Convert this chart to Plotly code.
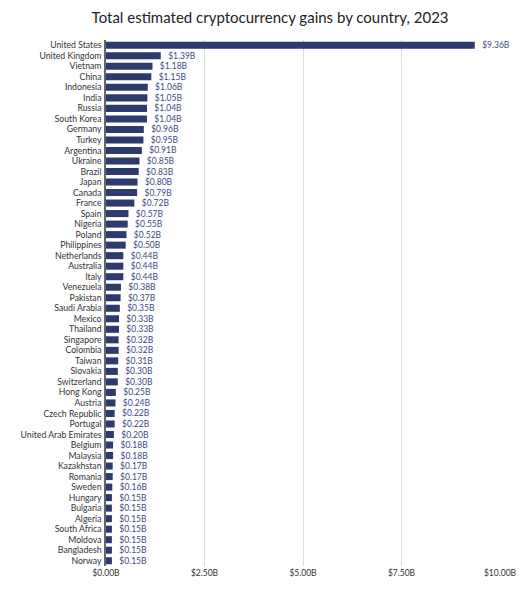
import plotly.graph_objects as go

countries = ["United States", "United Kingdom", "Vietnam", "China", "Indonesia", "India", "Russia",
             "South Korea", "Germany", "Turkey", "Argentina", "Ukraine", "Brazil", "Japan", "Canada",
             "France", "Spain", "Nigeria", "Poland", "Philippines", "Netherlands", "Australia", "Italy",
             "Venezuela", "Pakistan", "Saudi Arabia", "Mexico", "Thailand", "Singapore", "Colombia",
             "Taiwan", "Slovakia", "Switzerland", "Hong Kong", "Austria", "Czech Republic", "Portugal",
             "United Arab Emirates", "Belgium", "Malaysia", "Kazakhstan", "Romania", "Sweden", "Hungary",
             "Bulgaria", "Algeria", "South Africa", "Moldova", "Bangladesh", "Norway"]
gains_billion = [9.36, 1.39, 1.18, 1.15, 1.06, 1.05, 1.04, 1.04, 0.96, 0.95, 0.91, 0.85, 0.83, 0.80,
                 0.79, 0.72, 0.57, 0.55, 0.52, 0.50, 0.44, 0.44, 0.44, 0.38, 0.37, 0.35, 0.33, 0.33,
                 0.32, 0.32, 0.31, 0.30, 0.30, 0.25, 0.24, 0.22, 0.22, 0.20, 0.18, 0.18, 0.17, 0.17,
                 0.16, 0.15, 0.15, 0.15, 0.15, 0.15, 0.15, 0.15]
x_ticks = [0, 2.5, 5, 7.5, 10]
x_tick_labels = ["$0.00B", "$2.50B", "$5.00B", "$7.50B", "$10.00B"]

FONT = "Lato"

fig = go.Figure(go.Bar(
    x=gains_billion,
    y=countries,
    orientation="h",
    marker=dict(color="#2c3a6e", line=dict(width=0)),
    text=["  $%.2fB" % v for v in gains_billion],
    textposition="outside",
    constraintext="none",
    cliponaxis=False,
    textfont=dict(family=FONT, size=8.5, color="#3d4a85"),
    hoverinfo="x+y",
))

fig.update_layout(
    width=519, height=588,
    margin=dict(l=98, r=27, t=32, b=30, autoexpand=False),
    paper_bgcolor="white",
    plot_bgcolor="white",
    bargap=0.33,
    showlegend=False,
    title=dict(text="Total estimated cryptocurrency gains by country, 2023",
               x=0.505, xanchor="center", y=0.984, yanchor="middle", yref="container",
               font=dict(family=FONT, size=15, color="#222222")),
    font=dict(family=FONT, size=8.5, color="#333333"),
)
fig.update_xaxes(
    range=[0, 10], tickvals=x_ticks, ticktext=x_tick_labels,
    showgrid=True, gridcolor="#dddddd", gridwidth=1,
    zeroline=False, showline=False, automargin=False,
    tickfont=dict(family=FONT, size=8.5, color="#333333"),
    fixedrange=True,
)
fig.update_yaxes(
    autorange="reversed", type="category",
    tickmode="array", tickvals=countries, ticktext=countries,
    showline=True, linecolor="#666666", linewidth=1.5,
    showgrid=False, ticks="", ticklabelstandoff=1, automargin=False,
    tickfont=dict(family=FONT, size=8.7, color="#333333"),
    fixedrange=True,
)

fig.write_html("out.html")
